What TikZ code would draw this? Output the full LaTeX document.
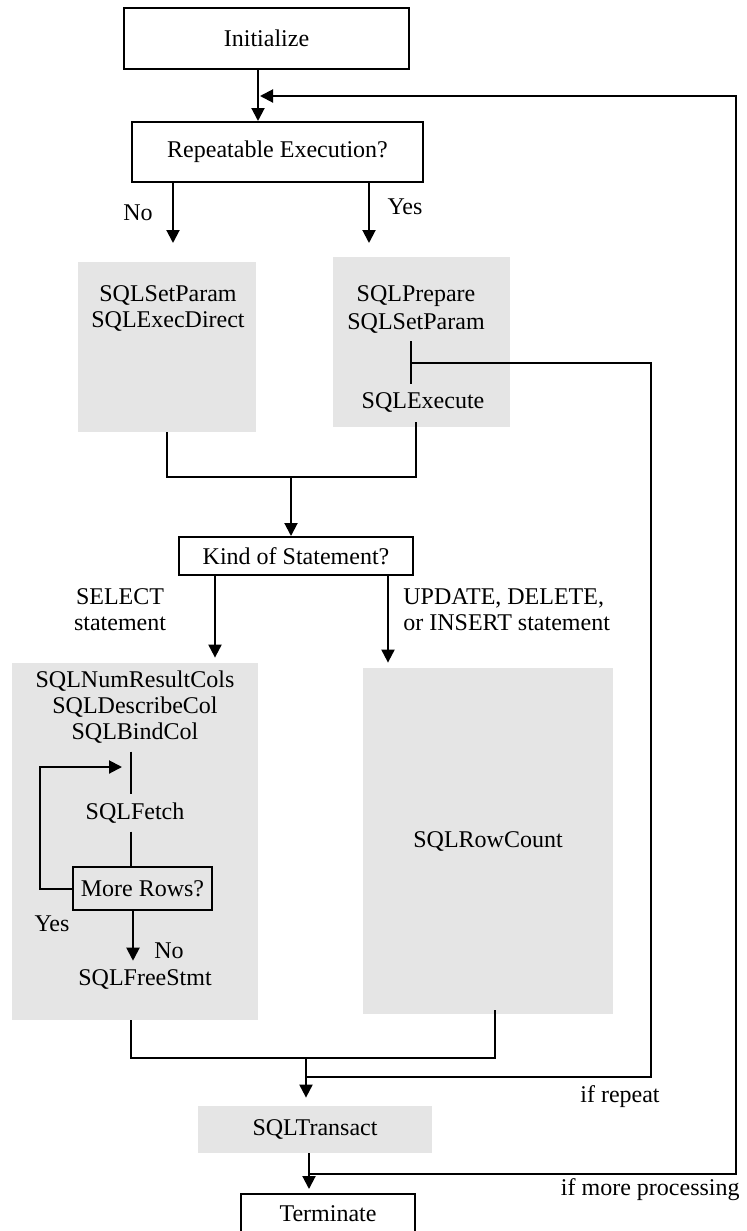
\documentclass[tikz,border=0pt]{standalone}
\usepackage{fontspec}
\setmainfont{Liberation Serif}
\usetikzlibrary{arrows.meta}
\definecolor{BoxGray}{gray}{0.9}

\tikzset{
  flowbox/.style={draw, line width=1pt, inner sep=0pt, font=\fontsize{12}{13}\selectfont},
  graybox/.style={fill=BoxGray, inner sep=0pt, font=\fontsize{12}{13}\selectfont},
  sqltext/.style={inner sep=4pt, align=center, font=\fontsize{12}{13}\selectfont},
  flowline/.style={line width=1pt},
  flowarrow/.style={line width=1pt, -{Triangle[length=6.5pt,width=6.5pt]}},
}

\begin{document}
\begin{tikzpicture}[x=0.5pt,y=0.5pt,yscale=-1,xscale=1]
	% Set diagram size: 746 wide, 1231 high
	\useasboundingbox (0,0) rectangle (746,1231);

	% Boxes at the top
	\node[flowbox, minimum width=142.5pt, minimum height=30.5pt] (init) at (266.5,38.5) {Initialize};
	\node[flowbox, minimum width=145.5pt, minimum height=30pt] (repeat) at (277.5,152) {Repeatable Execution?};

	% Gray boxes for direct and prepared execution
	\node[graybox, minimum width=89pt, minimum height=85pt] (direct) at (167,347) {};
	\node[sqltext] (directtxt) at (168,308.5) {SQLSetParam\\SQLExecDirect};
	\node[graybox, minimum width=88.5pt, minimum height=85pt] (prep) at (421.5,342) {};
	\node[sqltext] (prepare) at (416,296) {SQLPrepare};
	\node[sqltext] (setparam) at (416,323) {SQLSetParam};
	\node[sqltext] (execute) at (423,402) {SQLExecute};

	% Decision on the kind of statement
	\node[flowbox, minimum width=117pt, minimum height=19pt] (kind) at (296,556) {Kind of Statement?};

	% Gray box for SELECT, with the fetch loop
	\node[graybox, minimum width=123pt, minimum height=178.5pt] (select) at (135,841.5) {};
	\node[sqltext] (describe) at (135,707) {SQLNumResultCols\\SQLDescribeCol\\SQLBindCol};
	\node[sqltext] (fetch) at (135,813) {SQLFetch};
	\node[flowbox, minimum width=69.5pt, minimum height=21.5pt] (rows) at (142.5,888.5) {More Rows?};
	\node[sqltext] (freestmt) at (145,979) {SQLFreeStmt};

	% Gray box for UPDATE, DELETE, INSERT
	\node[graybox, minimum width=125pt, minimum height=173pt] (rowcount) at (488,841) {SQLRowCount};

	% Boxes at the bottom
	\node[graybox, minimum width=117pt, minimum height=23.5pt] (transact) at (315,1129.5) {SQLTransact};
	\node[flowbox, anchor=north, minimum width=87pt, minimum height=20pt] (term) at (328,1193) {Terminate};

	% Labels of the branches
	\node[sqltext] (nolbl) at (138,213) {No};
	\node[sqltext] (yeslbl) at (405,207) {Yes};
	\node[sqltext] (sellbl) at (120,609.5) {SELECT\\statement};
	\node[sqltext, align=left, anchor=west] (updlbl) at (395,609.5) {UPDATE, DELETE,\\or INSERT statement};
	\node[sqltext] (rowyes) at (52,924) {Yes};
	\node[sqltext] (rowno) at (169,951) {No};
	\node[sqltext] (replbl) at (620,1097) {if repeat};
	\node[sqltext, anchor=east] (morelbl) at (748,1190) {if more processing};

	% Corners and joins of the connectors
	\coordinate (backin) at (260,96);
	\coordinate (backtop) at (736,96);
	\coordinate (noend) at (173,243);
	\coordinate (yesend) at (369,243);
	\coordinate (tee) at (411,363);
	\coordinate (repcorner) at (651,1077);
	\coordinate (repjoin) at (306,1077);
	\coordinate (topjoin) at (291,477);
	\coordinate (botjoin) at (306,1058);
	\coordinate (morejoin) at (309,1174);
	\coordinate (spine) at (131,750);
	\coordinate (loopcorner) at (40,767);
	\coordinate (loopin) at (122,767);

	% Initialize into the decision
	\draw[flowarrow] ([xshift=-4.25pt]init.south) -- ([xshift=-4.25pt]init.south |- repeat.north);

	% No and Yes branches
	\draw[flowarrow] ([xshift=-52.25pt]repeat.south) -- (noend);
	\draw[flowarrow] ([xshift=45.75pt]repeat.south) -- (yesend);

	% SQLSetParam to SQLExecute, and the branch for a repeat
	\draw[flowline] (tee |- setparam.south) -- (tee |- execute.north);
	\draw[flowline] (tee) -| (repcorner) -- (repjoin);

	% Merge of the two execution paths
	\draw[flowline] (direct.south) |- (topjoin) -| ([xshift=-2.75pt,yshift=-2.5pt]prep.south);
	\draw[flowarrow] (topjoin) -- (topjoin |- kind.north);

	% Kind of statement branches
	\draw[flowarrow, shorten >=2.5pt] ([xshift=-40.5pt]kind.south) -- ([xshift=-40.5pt]kind.south |- select.north);
	\draw[flowarrow, shorten >=2.5pt] ([xshift=46pt]kind.south) -- ([xshift=46pt]kind.south |- rowcount.north);

	% Fetch loop
	\draw[flowline] (spine |- describe.south) -- (spine |- fetch.north);
	\draw[flowline] (spine |- fetch.south) -- (spine |- rows.north);
	\draw[flowarrow] (rows.west) -| (loopcorner) -- (loopin);
	\draw[flowarrow] ([xshift=-4.75pt]rows.south) -- ([xshift=-4.75pt]rows.south |- freestmt.north);

	% Merge of the two kinds of statement
	\draw[flowline] ([xshift=-2pt]select.south) |- (botjoin) -| ([xshift=3.5pt,yshift=-2pt]rowcount.south);
	\draw[flowarrow, shorten >=4pt] (botjoin) -- (botjoin |- transact.north);

	% Transact to Terminate, and back for more processing
	\draw[flowarrow, shorten >=2pt] ([xshift=-3pt]transact.south) -- ([xshift=-3pt]transact.south |- term.north);
	\draw[flowarrow] (morejoin) -| (backtop) -- (backin);
\end{tikzpicture}
\end{document}
